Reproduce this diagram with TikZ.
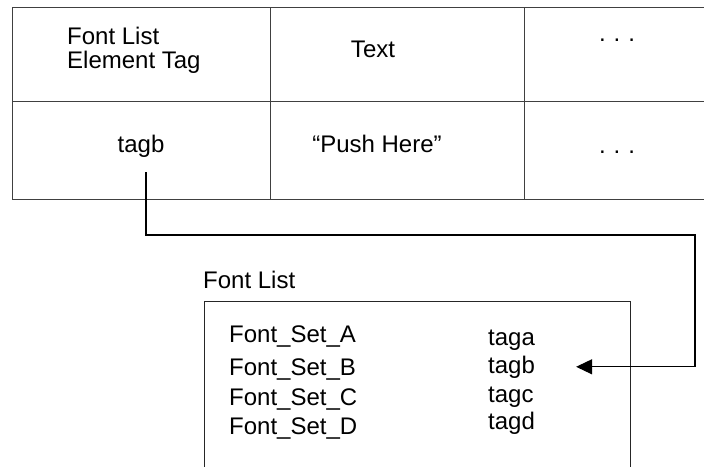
\documentclass[tikz,border=0pt]{standalone}
\usepackage{fontspec}
\setmainfont{Liberation Sans}
\usetikzlibrary{arrows.meta}

\tikzset{
	cell/.style={draw=black!75, line width=0.9pt, inner sep=0},
	txt/.style={inner sep=0, font=\fontsize{24}{24}\selectfont},
	link/.style={line width=1.2pt, -{Triangle[length=16pt,width=15pt]}}
}

\begin{document}
\begin{tikzpicture}[x=1pt, y=-1pt]
\useasboundingbox (0,0) rectangle (704,466);

% table, right column runs off the page
\foreach \y\h [count=\r] in {54/94,150/98}{
	\foreach \x\w [count=\c] in {141/258,397/254,619/190}{
		\node[cell, minimum width=\w pt, minimum height=\h pt] (c\r\c) at (\x,\y) {};
	}
}

\node[txt, anchor=north west, align=left] (hdtag) at (67,27) {Font List\\Element Tag};
\node[txt, anchor=base] (hdtext) at (373,57) {Text};
\node[txt, anchor=base] (hdmore) at (617,41) {.\hspace{8pt}.\hspace{8pt}.};
\node[txt, anchor=base] (celltag) at (141,152) {tagb};
\node[txt, anchor=base] (celltext) at (377,152) {“Push Here”};
\node[txt, anchor=base] (cellmore) at (617,153) {.\hspace{8pt}.\hspace{8pt}.};

% font list box, open at the bottom
\node[txt, anchor=base west] (listname) at (203,288) {Font List};
\draw[black!85, line width=1pt] (204,470) -- (204,301) -- (630,301) -- (630,470);

\foreach \s\t\y\z in {A/a/342/345,B/b/375/373,C/c/405/402,D/d/434/429}{
	\node[txt, anchor=base west] (set\s) at (229,\y) {Font\_Set\_\s};
	\node[txt, anchor=base west] (tag\t) at (488,\z) {tag\t};
}

\coordinate (start) at (146,172);
\coordinate (bend) at (695,235);
\draw[link] (start) |- (bend) |- ([xshift=41pt]tagb.east);

\end{tikzpicture}
\end{document}
